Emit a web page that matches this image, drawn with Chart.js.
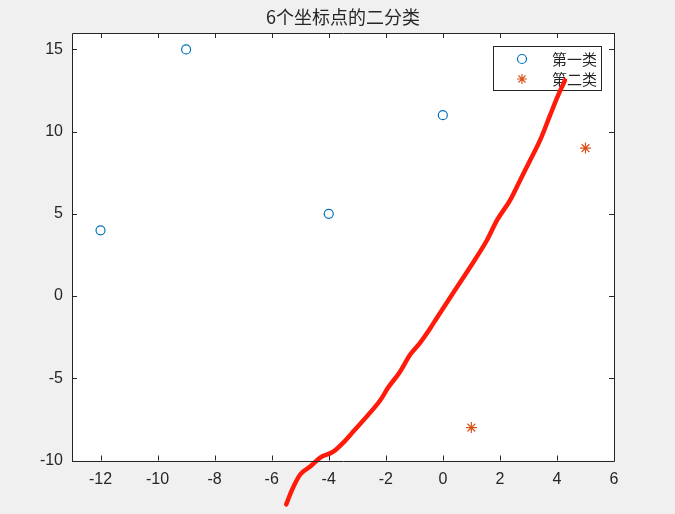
<!DOCTYPE html>
<html>
<head>
<meta charset="utf-8">
<script src="https://cdn.jsdelivr.net/npm/chart.js@4.4.0/dist/chart.umd.min.js"></script>
<style>
  html, body { margin: 0; padding: 0; background: #f0f0f0; }
  #wrap { width: 675px; height: 514px; }
</style>
</head>
<body>
<div id="wrap"><canvas id="chart" width="675" height="514"></canvas></div>
<script>
// data
const titleText = '6个坐标点的二分类';
const classOneName = '第一类';
const classTwoName = '第二类';
const classOneX = [-12, -9, -4, 0];
const classOneY = [4, 15, 5, 11];
const classTwoX = [1, 5];
const classTwoY = [-8, 9];
const boundaryX = [-5.49, -5.28, -5.00, -4.65, -4.30, -3.84, -3.49, -3.14, -2.55, -2.20, -1.91, -1.50, -1.15, -0.80, -0.44, -0.20, 0.36, 0.96, 1.55, 1.90, 2.36, 2.71, 3.06, 3.41, 3.76, 4.04, 4.28];
const boundaryY = [-12.67, -11.76, -10.85, -10.37, -9.82, -9.46, -8.91, -8.24, -7.09, -6.35, -5.55, -4.60, -3.57, -2.84, -1.95, -1.30, 0.19, 1.77, 3.41, 4.62, 5.84, 7.05, 8.26, 9.48, 11.0, 12.2, 13.12];
const xTicks = [-12, -10, -8, -6, -4, -2, 0, 2, 4, 6];
const yTicks = [-10, -5, 0, 5, 10, 15];

const toPoints = (xs, ys) => xs.map((x, i) => ({ x: x, y: ys[i] }));

const axisColor = '#262626';
const blue = '#0072BD';
const orange = '#D95319';

// inward ticks on all four sides + box
const boxTicks = {
    id: 'boxTicks',
    afterDraw(chart) {
        const { ctx, chartArea: a, scales } = chart;
        const len = 5;
        ctx.save();
        ctx.strokeStyle = axisColor;
        ctx.lineWidth = 1;
        ctx.beginPath();
        ctx.rect(Math.round(a.left) + 0.5, Math.round(a.top) + 0.5,
                 Math.round(a.right - a.left), Math.round(a.bottom - a.top));
        scales.x.ticks.forEach(t => {
            const px = Math.round(scales.x.getPixelForValue(t.value)) + 0.5;
            ctx.moveTo(px, a.bottom); ctx.lineTo(px, a.bottom - len);
            ctx.moveTo(px, a.top); ctx.lineTo(px, a.top + len);
        });
        scales.y.ticks.forEach(t => {
            const py = Math.round(scales.y.getPixelForValue(t.value)) + 0.5;
            ctx.moveTo(a.left, py); ctx.lineTo(a.left + len, py);
            ctx.moveTo(a.right, py); ctx.lineTo(a.right - len, py);
        });
        ctx.stroke();
        ctx.restore();
    }
};

// legend box in the upper right, drawn under the datasets
const boxLegend = {
    id: 'boxLegend',
    beforeDatasetsDraw(chart) {
        const ctx = chart.ctx;
        const left = 493.5, top = 46.5, w = 108, h = 44;
        ctx.save();
        ctx.fillStyle = '#ffffff';
        ctx.fillRect(left, top, w, h);
        ctx.strokeStyle = axisColor;
        ctx.lineWidth = 1;
        ctx.strokeRect(left, top, w, h);

        // circle marker
        ctx.strokeStyle = blue;
        ctx.lineWidth = 1.2;
        ctx.beginPath();
        ctx.arc(522, 59, 4.5, 0, Math.PI * 2);
        ctx.stroke();

        // asterisk marker
        ctx.strokeStyle = orange;
        ctx.beginPath();
        const cx = 522, cy = 79, r = 5;
        for (let k = 0; k < 4; k++) {
            const ang = k * Math.PI / 4;
            ctx.moveTo(cx - r * Math.cos(ang), cy - r * Math.sin(ang));
            ctx.lineTo(cx + r * Math.cos(ang), cy + r * Math.sin(ang));
        }
        ctx.stroke();

        ctx.fillStyle = axisColor;
        ctx.font = '15px "Noto Sans CJK SC"';
        ctx.textBaseline = 'middle';
        ctx.textAlign = 'left';
        ctx.fillText(classOneName, 552, 59);
        ctx.fillText(classTwoName, 552, 79);
        ctx.restore();
    }
};

const ctx = document.getElementById('chart').getContext('2d');
new Chart(ctx, {
    type: 'scatter',
    data: {
        datasets: [
            {
                label: classOneName,
                data: toPoints(classOneX, classOneY),
                pointStyle: 'circle',
                pointRadius: 4.5,
                borderColor: blue,
                backgroundColor: 'rgba(0,0,0,0)',
                borderWidth: 1.2
            },
            {
                label: classTwoName,
                data: toPoints(classTwoX, classTwoY),
                pointStyle: 'star',
                pointRadius: 5.5,
                borderColor: orange,
                backgroundColor: orange,
                borderWidth: 1.2
            },
            {
                label: 'boundary',
                data: toPoints(boundaryX, boundaryY),
                showLine: true,
                pointRadius: 0,
                borderColor: '#ff1a0a',
                borderWidth: 4.5,
                cubicInterpolationMode: 'monotone',
                borderCapStyle: 'round',
                borderJoinStyle: 'round',
                clip: false
            }
        ]
    },
    options: {
        responsive: false,
        animation: false,
        // left padding offsets the title so it centres over the axes box
        layout: { padding: { left: 11, right: 0, top: 0, bottom: 0 } },
        plugins: {
            legend: { display: false },
            tooltip: { enabled: false },
            title: {
                display: true,
                text: titleText,
                color: axisColor,
                font: { family: '"Noto Sans CJK SC"', size: 18, weight: 'normal' },
                padding: { top: 6, bottom: 5.4 }
            }
        },
        scales: {
            x: {
                type: 'linear',
                min: -13,
                max: 6,
                afterBuildTicks: s => { s.ticks = xTicks.map(v => ({ value: v })); },
                afterFit: s => { s.height = 53.5; },
                grid: { display: false, drawTicks: false },
                border: { display: false },
                ticks: {
                    color: axisColor,
                    padding: 9,
                    maxRotation: 0,
                    font: { family: '"Liberation Sans", Arial', size: 16 }
                }
            },
            y: {
                type: 'linear',
                min: -10,
                max: 16,
                afterBuildTicks: s => { s.ticks = yTicks.map(v => ({ value: v })); },
                afterFit: s => { s.width = 61; },
                grid: { display: false, drawTicks: false },
                border: { display: false },
                ticks: {
                    color: axisColor,
                    padding: 9,
                    font: { family: '"Liberation Sans", Arial', size: 16 }
                }
            },
            // empty spacer on the right
            yRight: {
                type: 'linear',
                position: 'right',
                min: -10,
                max: 16,
                afterFit: s => { s.width = 61; },
                grid: { display: false, drawTicks: false },
                border: { display: false },
                ticks: { display: false }
            }
        }
    },
    plugins: [
        {
            id: 'bg',
            beforeDraw(chart) {
                const { ctx, chartArea: a } = chart;
                ctx.save();
                ctx.fillStyle = '#f0f0f0';
                ctx.fillRect(0, 0, chart.width, chart.height);
                ctx.fillStyle = '#ffffff';
                ctx.fillRect(a.left, a.top, a.right - a.left, a.bottom - a.top);
                ctx.restore();
            }
        },
        boxLegend,
        boxTicks
    ]
});
</script>
</body>
</html>
